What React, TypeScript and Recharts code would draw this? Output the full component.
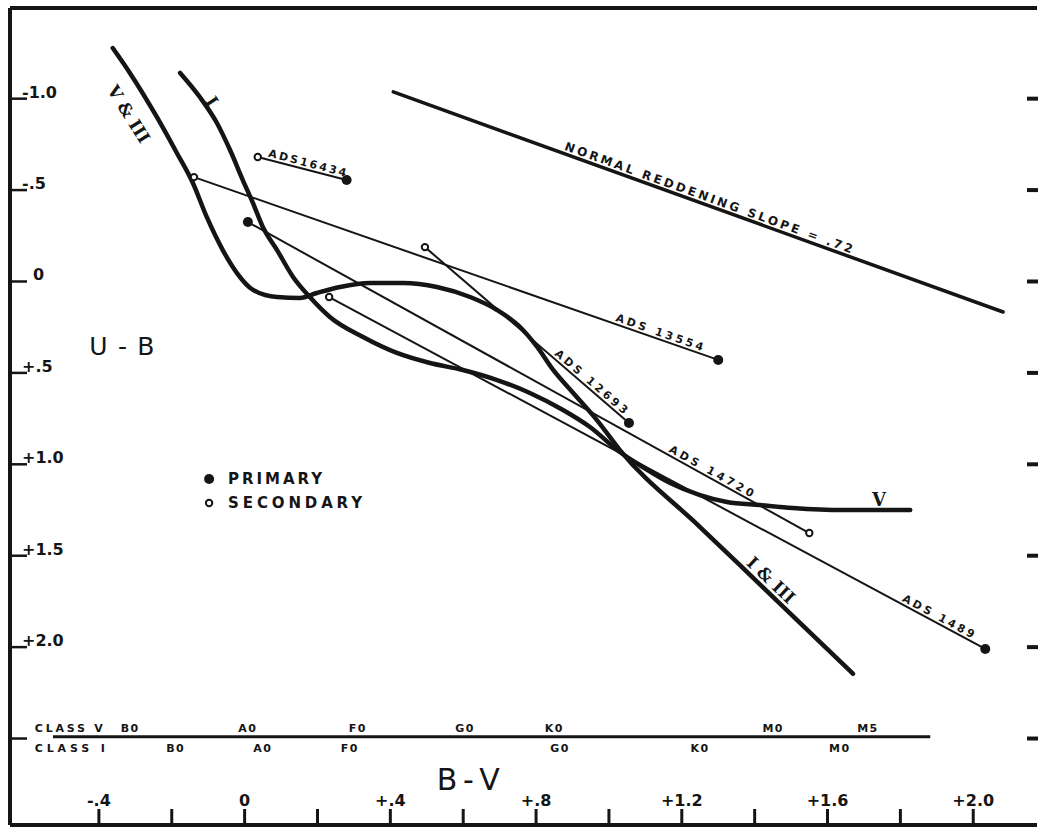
import React from "react";
import {
  ComposedChart,
  Line,
  Scatter,
  XAxis,
  YAxis,
  ReferenceLine,
  ReferenceDot,
} from "recharts";

// two-colour diagram: U-B against B-V, with the intrinsic sequences and some ADS pairs

const BV_TICKS = [-0.4, -0.2, 0, 0.2, 0.4, 0.6, 0.8, 1.0, 1.2, 1.4, 1.6, 1.8, 2.0];
const BV_TICK_LABELS = ["-.4", "", "0", "", "+.4", "", "+.8", "", "+1.2", "", "+1.6", "", "+2.0"];
const UB_TICKS = [-1.0, -0.5, 0, 0.5, 1.0, 1.5, 2.0, 2.5];
const UB_TICK_LABELS = ["-1.0", "-.5", "0", "+.5", "+1.0", "+1.5", "+2.0", ""];

// V & III sequence (Balmer hump), which runs on as the I & III branch
const CURVE_V_III_BV = [-0.362, -0.315, -0.241, -0.186, -0.142, -0.104, -0.06, -0.021, 0.023, 0.089, 0.152, 0.198, 0.262, 0.344, 0.435, 0.528, 0.619, 0.693, 0.756, 0.803, 0.847, 0.902, 0.967, 1.03, 1.25, 1.47, 1.67];
const CURVE_V_III_UB = [-1.277, -1.141, -0.9, -0.703, -0.539, -0.353, -0.172, -0.046, 0.046, 0.085, 0.09, 0.063, 0.03, 0.008, 0.008, 0.03, 0.085, 0.156, 0.249, 0.358, 0.484, 0.61, 0.758, 0.922, 1.343, 1.763, 2.146];

// class I sequence, which runs on as the class V dwarfs
const CURVE_I_V_BV = [-0.177, -0.123, -0.076, -0.04, -0.005, 0.023, 0.05, 0.089, 0.133, 0.179, 0.234, 0.325, 0.418, 0.509, 0.599, 0.693, 0.783, 0.874, 0.948, 1.03, 1.093, 1.168, 1.25, 1.324, 1.415, 1.505, 1.643, 1.827];
const CURVE_I_V_UB = [-1.141, -1.009, -0.867, -0.719, -0.555, -0.429, -0.298, -0.172, -0.025, 0.085, 0.194, 0.304, 0.391, 0.446, 0.484, 0.539, 0.61, 0.703, 0.796, 0.933, 1.015, 1.102, 1.168, 1.206, 1.223, 1.239, 1.25, 1.25];

const REDDENING_BV = [0.408, 2.082];
const REDDENING_UB = [-1.037, 0.167];

const PAIR_NAMES = ["ADS16434", "ADS 13554", "ADS 12693", "ADS 14720", "ADS 1489"];
const PRIMARY_BV = [0.28, 1.3, 1.055, 0.009, 2.033];
const PRIMARY_UB = [-0.555, 0.429, 0.774, -0.325, 2.01];
const SECONDARY_BV = [0.036, -0.139, 0.495, 1.55, 0.232];
const SECONDARY_UB = [-0.681, -0.571, -0.188, 1.376, 0.085];

const CLASS_LINE_BV = [-0.526, 1.882];
const CLASS_LINE_UB = 2.49;
const CLASS_V_TYPES = ["B0", "A0", "F0", "G0", "K0", "M0", "M5"];
const CLASS_V_BV = [-0.314, 0.009, 0.311, 0.605, 0.85, 1.451, 1.711];
const CLASS_I_TYPES = ["B0", "A0", "F0", "G0", "K0", "M0"];
const CLASS_I_BV = [-0.189, 0.05, 0.289, 0.866, 1.25, 1.634];

const INK = "#151515";
const SANS = "'DejaVu Sans', Verdana, sans-serif";
const SERIF = "'DejaVu Serif', serif";
const W = 1038;
const H = 827;
// axes get 1px each (a zero-sized axis is not drawn at all)
const MARGIN = { top: 7, right: 0, bottom: 1, left: 9 };
const PLOT_LEFT = MARGIN.left + 1;
const PLOT_RIGHT = W - MARGIN.right - 1;
const PLOT_TOP = MARGIN.top + 1;
const PLOT_BOTTOM = H - MARGIN.bottom - 1;
const BV_DOMAIN: [number, number] = [-0.644, 2.175];
const UB_DOMAIN: [number, number] = [-1.496, 2.973];
const PX_PER_BV = (PLOT_RIGHT - PLOT_LEFT) / (BV_DOMAIN[1] - BV_DOMAIN[0]);
const PX_PER_UB = (PLOT_BOTTOM - PLOT_TOP) / (UB_DOMAIN[1] - UB_DOMAIN[0]);

const toPoints = (xs: number[], ys: number[]) => xs.map((x, i) => ({ x, y: ys[i] }));

const labelFor = (ticks: number[], labels: string[], v: number) =>
  labels[ticks.findIndex((t) => Math.abs(t - v) < 1e-6)] ?? "";

// slope of a segment on screen, in degrees
const screenAngle = (a: { x: number; y: number }, b: { x: number; y: number }) =>
  (Math.atan2((b.y - a.y) * PX_PER_UB, (b.x - a.x) * PX_PER_BV) * 180) / Math.PI;

function BottomTick(props: any) {
  const { x, payload } = props;
  const label = labelFor(BV_TICKS, BV_TICK_LABELS, payload.value);
  return (
    <g>
      <line x1={x} x2={x} y1={PLOT_BOTTOM} y2={PLOT_BOTTOM - 16} stroke={INK} strokeWidth={3} />
      {label && (
        <text x={x} y={PLOT_BOTTOM - 19} textAnchor="middle" fontFamily={SANS} fontWeight={700} fontSize={16} fill={INK}>
          {label}
        </text>
      )}
    </g>
  );
}

function TopTick(props: any) {
  const { x } = props;
  return <line x1={x} x2={x} y1={PLOT_TOP} y2={PLOT_TOP + 20} stroke={INK} strokeWidth={3} />;
}

function LeftTick(props: any) {
  const { y, payload } = props;
  const label = labelFor(UB_TICKS, UB_TICK_LABELS, payload.value);
  return (
    <g>
      <line x1={PLOT_LEFT} x2={PLOT_LEFT + 17} y1={y} y2={y} stroke={INK} strokeWidth={2.5} />
      {label && (
        <text x={PLOT_LEFT + (label === "0" ? 23 : 12)} y={y - 1} textAnchor="start" fontFamily={SANS} fontWeight={700} fontSize={16} fill={INK}>
          {label}
        </text>
      )}
    </g>
  );
}

function RightTick(props: any) {
  const { y } = props;
  return <line x1={PLOT_RIGHT - 10} x2={PLOT_RIGHT + 1} y1={y} y2={y} stroke={INK} strokeWidth={4} />;
}

const FilledDot = (p: any) => <circle cx={p.cx} cy={p.cy} r={5} fill={INK} />;
const OpenDot = (p: any) => <circle cx={p.cx} cy={p.cy} r={3.2} fill="#fff" stroke={INK} strokeWidth={2} />;

type TextOpts = {
  text: string;
  size: number;
  angle?: number;
  len?: number;
  lift?: number;
  serif?: boolean;
  anchor?: "start" | "middle";
  weight?: number;
  spacing?: number;
};

const textShape = (o: TextOpts) => (p: any) => {
  const { cx, cy } = p;
  const onLine = o.lift != null;
  return (
    <text
      x={cx}
      y={onLine ? cy - (o.lift as number) : cy}
      transform={o.angle ? `rotate(${o.angle} ${cx} ${cy})` : undefined}
      textAnchor={o.anchor ?? "middle"}
      dominantBaseline={onLine ? "alphabetic" : "central"}
      fontFamily={o.serif ? SERIF : SANS}
      fontWeight={o.weight ?? 700}
      fontSize={o.size}
      letterSpacing={o.spacing}
      textLength={o.len}
      lengthAdjust={o.len ? "spacing" : undefined}
      fill={INK}
    >
      {o.text}
    </text>
  );
};

const legendShape = (text: string, filled: boolean, len: number) => (p: any) => (
  <g>
    {filled ? (
      <circle cx={p.cx} cy={p.cy} r={5} fill={INK} />
    ) : (
      <circle cx={p.cx} cy={p.cy} r={3.2} fill="#fff" stroke={INK} strokeWidth={2} />
    )}
    <text x={p.cx + 19} y={p.cy} dominantBaseline="central" fontFamily={SANS} fontWeight={700} fontSize={15} textLength={len} lengthAdjust="spacing" fill={INK}>
      {text}
    </text>
  </g>
);

export default function App() {
  const vIII = toPoints(CURVE_V_III_BV, CURVE_V_III_UB);
  const iV = toPoints(CURVE_I_V_BV, CURVE_I_V_UB);
  const reddening = toPoints(REDDENING_BV, REDDENING_UB);
  const primaries = toPoints(PRIMARY_BV, PRIMARY_UB);
  const secondaries = toPoints(SECONDARY_BV, SECONDARY_UB);
  const pairs = PAIR_NAMES.map((name, i) => ({
    name,
    seg: [primaries[i], secondaries[i]].sort((a, b) => a.x - b.x),
  }));

  // where each pair's name sits along its segment, and how long it is drawn
  const pairLabels = [
    { t: 0.54, len: 80 },
    { t: 0.884, len: 92 },
    { t: 0.794, len: 92 },
    { t: 0.82, len: 95 },
    { t: 0.924, len: 80 },
  ];
  const along = (seg: { x: number; y: number }[], t: number) => ({
    x: seg[0].x + (seg[1].x - seg[0].x) * t,
    y: seg[0].y + (seg[1].y - seg[0].y) * t,
  });
  const redLabel = along(reddening, 0.513);

  return (
    <div style={{ position: "absolute", left: 0, top: 0, width: W, height: H, background: "#fff" }}>
      <ComposedChart width={W} height={H} margin={MARGIN}>
        <XAxis
          xAxisId={0}
          type="number"
          dataKey="x"
          domain={BV_DOMAIN}
          allowDataOverflow
          height={1}
          ticks={BV_TICKS}
          interval={0}
          tickLine={false}
          tick={BottomTick}
          axisLine={{ stroke: INK, strokeWidth: 4 }}
        />
        <XAxis
          xAxisId="top"
          orientation="top"
          type="number"
          domain={BV_DOMAIN}
          allowDataOverflow
          height={1}
          ticks={BV_TICKS}
          interval={0}
          tickLine={false}
          tick={TopTick}
          axisLine={{ stroke: INK, strokeWidth: 4 }}
        />
        <YAxis
          yAxisId={0}
          type="number"
          dataKey="y"
          domain={UB_DOMAIN}
          reversed
          allowDataOverflow
          width={1}
          ticks={UB_TICKS}
          interval={0}
          tickLine={false}
          tick={LeftTick}
          axisLine={{ stroke: INK, strokeWidth: 4 }}
        />
        <YAxis
          yAxisId="right"
          orientation="right"
          type="number"
          domain={UB_DOMAIN}
          reversed
          allowDataOverflow
          width={1}
          ticks={UB_TICKS}
          interval={0}
          tickLine={false}
          tick={RightTick}
          axisLine={false}
        />

        <ReferenceLine
          segment={[
            { x: CLASS_LINE_BV[0], y: CLASS_LINE_UB },
            { x: CLASS_LINE_BV[1], y: CLASS_LINE_UB },
          ]}
          stroke={INK}
          strokeWidth={3}
        />

        <Line data={reddening} dataKey="y" type="linear" stroke={INK} strokeWidth={3.5} strokeLinecap="round" dot={false} activeDot={false} isAnimationActive={false} />
        <Line data={vIII} dataKey="y" type="monotone" stroke={INK} strokeWidth={4.5} strokeLinecap="round" dot={false} activeDot={false} isAnimationActive={false} />
        <Line data={iV} dataKey="y" type="monotone" stroke={INK} strokeWidth={4.5} strokeLinecap="round" dot={false} activeDot={false} isAnimationActive={false} />
        {pairs.map((p) => (
          <Line key={p.name} data={p.seg} dataKey="y" type="linear" stroke={INK} strokeWidth={2} dot={false} activeDot={false} isAnimationActive={false} />
        ))}
        <Scatter data={secondaries} shape={OpenDot} isAnimationActive={false} />
        <Scatter data={primaries} shape={FilledDot} isAnimationActive={false} />

        {pairs.map((p, i) => {
          const at = along(p.seg, pairLabels[i].t);
          return (
            <ReferenceDot
              key={"lbl" + p.name}
              x={at.x}
              y={at.y}
              r={0}
              shape={textShape({ text: p.name, size: 11, angle: screenAngle(p.seg[0], p.seg[1]), len: pairLabels[i].len, lift: 3 })}
            />
          );
        })}
        <ReferenceDot
          x={redLabel.x}
          y={redLabel.y}
          r={0}
          shape={textShape({ text: "NORMAL REDDENING SLOPE = .72", size: 12, angle: screenAngle(reddening[0], reddening[1]), len: 305, lift: 3.5 })}
        />

        <ReferenceDot x={-0.318} y={-0.916} r={0} shape={textShape({ text: "V & III", size: 17, angle: 58, serif: true, weight: 700 })} />
        <ReferenceDot x={-0.09} y={-0.985} r={0} shape={textShape({ text: "I", size: 17, angle: 57, serif: true, weight: 700 })} />
        <ReferenceDot x={1.445} y={1.633} r={0} shape={textShape({ text: "I & III", size: 17, angle: 43.5, serif: true, weight: 700 })} />
        <ReferenceDot x={1.741} y={1.19} r={0} shape={textShape({ text: "V", size: 18, serif: true, weight: 700 })} />

        <ReferenceDot x={-0.337} y={0.353} r={0} shape={textShape({ text: "U - B", size: 25, weight: 400, len: 65 })} />
        <ReferenceDot x={0.614} y={2.722} r={0} shape={textShape({ text: "B - V", size: 30, weight: 400, len: 63 })} />

        <ReferenceDot x={-0.0975} y={1.08} r={0} shape={legendShape("PRIMARY", true, 94)} />
        <ReferenceDot x={-0.0975} y={1.212} r={0} shape={legendShape("SECONDARY", false, 134)} />

        <ReferenceDot x={-0.576} y={2.443} r={0} shape={textShape({ text: "CLASS V", size: 11, anchor: "start", len: 68 })} />
        <ReferenceDot x={-0.576} y={2.552} r={0} shape={textShape({ text: "CLASS I", size: 11, anchor: "start", len: 70 })} />
        {CLASS_V_TYPES.map((s, i) => (
          <ReferenceDot key={"v" + s} x={CLASS_V_BV[i]} y={2.443} r={0} shape={textShape({ text: s, size: 11, spacing: 1.5 })} />
        ))}
        {CLASS_I_TYPES.map((s, i) => (
          <ReferenceDot key={"i" + s} x={CLASS_I_BV[i]} y={2.552} r={0} shape={textShape({ text: s, size: 11, spacing: 1.5 })} />
        ))}
      </ComposedChart>
    </div>
  );
}
